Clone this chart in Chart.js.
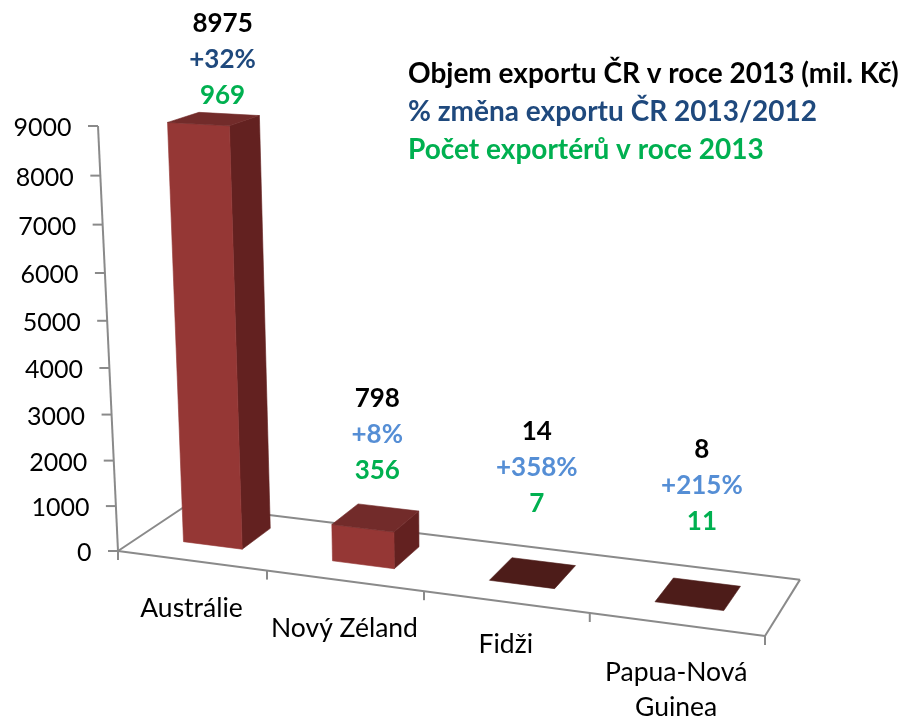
<!DOCTYPE html>
<html><head><meta charset="utf-8">
<style>html,body{margin:0;padding:0;background:#fff}canvas{display:block}</style>
<script src="https://cdn.jsdelivr.net/npm/chart.js@4/dist/chart.umd.min.js"></script>
</head><body><canvas id="c" width="908" height="721"></canvas>
<script>
const categories = [['Austrálie'], ['Nový Zéland'], ['Fidži'], ['Papua-Nová', 'Guinea']];
const exportVolume = [8975, 798, 14, 8];
const exportChange = ['+32%', '+8%', '+358%', '+215%'];
const exporterCount = [969, 356, 7, 11];
const legendLines = ['Objem exportu ČR v roce 2013 (mil. Kč)', '% změna exportu ČR 2013/2012', 'Počet exportérů v roce 2013'];

const FONT = 'Lato, Carlito, "Open Sans", sans-serif';
const C = {front:'#953735', side:'#632120', top:'#722b2a', flat:'#4d1c19', axis:'#8a8a8a', text:'#000',
           green:'#00b050', navy:'#1f497d', blue:'#558ed5'};
// Projective camera: floor and axis corners on screen + perspective terms.
const CAM = {O:[118,551], R:[765,636], T:[98,126], Q:[187,505], du:-0.1025, dv:-0.0545, dw:0.0613};
const DEPTH = [0.31, 0.75];
const ROW_TOPS = [24, 399, 432, 450];     // centre of the first annotation row per category
const ROW_NUDGE_X = [-6, 0, 3, 3];        // horizontal offset of the annotation rows
const LABEL_NUDGE_Y = [0, 0, -5, 1];      // vertical offset of the category labels
const ROW_STEP = 36;

function project(u, t, w) {
  const {O, R, T, Q, du, dv, dw} = CAM;
  const den = 1 + du*u + dv*t + dw*w;
  return [0, 1].map(i => (O[i] + u*(R[i]*(1+du)-O[i]) + t*(T[i]*(1+dv)-O[i]) + w*(Q[i]*(1+dw)-O[i])) / den);
}
function poly(ctx, pts, fill) {
  ctx.beginPath();
  pts.forEach((p, i) => i ? ctx.lineTo(p[0], p[1]) : ctx.moveTo(p[0], p[1]));
  ctx.closePath();
  ctx.fillStyle = fill; ctx.fill();
  ctx.strokeStyle = fill; ctx.lineWidth = 0.6; ctx.stroke();
}
function seg(ctx, a, b) { ctx.beginPath(); ctx.moveTo(a[0], a[1]); ctx.lineTo(b[0], b[1]); ctx.stroke(); }

const scene3d = {
  id: 'scene3d',
  beforeDatasetsDraw(chart) {
    const {ctx, scales:{x, y}, chartArea:a} = chart;
    ctx.save();
    ctx.strokeStyle = C.axis; ctx.lineWidth = 2; ctx.lineCap = 'butt';
    // floor
    const f = [project(0,0,0), project(1,0,0), project(1,0,1), project(0,0,1)];
    f.forEach((p, i) => seg(ctx, p, f[(i+1)%4]));
    // y axis
    seg(ctx, project(0,0,0), project(0,1,0));
    ctx.fillStyle = C.text; ctx.font = '25px ' + FONT; ctx.textAlign = 'right'; ctx.textBaseline = 'middle';
    y.ticks.forEach(tick => {
      const t = (a.bottom - y.getPixelForValue(tick.value)) / a.height;
      const p = project(0, t, 0);
      seg(ctx, [p[0]-10, p[1]], p);
      ctx.fillText(String(tick.value), p[0]-26.5, p[1] + 2);
    });
    // x axis ticks
    for (let i = 0; i <= categories.length; i++) {
      const p = project(i/categories.length, 0, 0);
      seg(ctx, p, [p[0], p[1]+9]);
    }
    // category labels
    ctx.textAlign = 'center'; ctx.textBaseline = 'alphabetic'; ctx.font = '26.5px ' + FONT;
    chart.data.labels.forEach((lines, i) => {
      const u = (x.getPixelForValue(i) - a.left) / a.width;
      const p = project(u, 0, 0);
      lines.forEach((s, k) => ctx.fillText(s, p[0], p[1] + 56 + LABEL_NUDGE_Y[i] + k*35));
    });
    ctx.restore();
  },
  beforeDatasetDraw(chart, args) {
    const {ctx, chartArea:a} = chart;
    ctx.save();
    args.meta.data.forEach(el => {
      const {x, y, width} = el.getProps(['x','y','width'], true);
      const u0 = (x - width/2 - a.left)/a.width, u1 = (x + width/2 - a.left)/a.width;
      const t = (a.bottom - y)/a.height;
      const [w0, w1] = DEPTH;
      const A = project(u0,0,w0), B = project(u1,0,w0), Bb = project(u1,0,w1);
      const At = project(u0,t,w0), Bt = project(u1,t,w0), Bbt = project(u1,t,w1), Abt = project(u0,t,w1);
      const flat = Math.abs(A[1]-At[1]) < 1.5;
      if (!flat) {
        poly(ctx, [B, Bb, Bbt, Bt], C.side);
        poly(ctx, [A, B, Bt, At], C.front);
      }
      poly(ctx, [At, Bt, Bbt, Abt], flat ? C.flat : C.top);
    });
    ctx.restore();
    return false;
  },
  afterDatasetsDraw(chart) {
    const {ctx, scales:{x}} = chart;
    ctx.save();
    ctx.textAlign = 'center'; ctx.textBaseline = 'middle'; ctx.font = 'bold 26px ' + FONT;
    categories.forEach((_, i) => {
      const u = (x.getPixelForValue(i) - chart.chartArea.left) / chart.chartArea.width;
      const cx = project(u, 0, 0.55)[0] + ROW_NUDGE_X[i];
      const y0 = ROW_TOPS[i];
      [[exportVolume[i], C.text], [exportChange[i], i === 0 ? C.navy : C.blue], [exporterCount[i], C.green]]
        .forEach(([s, col], r) => { ctx.fillStyle = col; ctx.fillText(String(s), cx, y0 + r*ROW_STEP); });
    });
    ctx.textAlign = 'left'; ctx.textBaseline = 'alphabetic'; ctx.font = 'bold 28px ' + FONT;
    [C.text, C.navy, C.green].forEach((col, i) => {
      ctx.fillStyle = col; ctx.fillText(legendLines[i], 408, 83 + i*38);
    });
    ctx.restore();
  }
};

new Chart(document.getElementById('c'), {
  type: 'bar',
  data: { labels: categories, datasets: [{ data: exportVolume, backgroundColor: C.front, barPercentage: 0.4, categoryPercentage: 1 }] },
  options: {
    responsive: false, animation: false,
    layout: { padding: { left: 118, right: 143, top: 126, bottom: 169 } },
    plugins: { legend: { display: false }, tooltip: { enabled: false } },
    scales: {
      x: { ticks: { display: false }, grid: { display: false }, border: { display: false } },
      y: { min: 0, max: 9000, ticks: { display: false, stepSize: 1000 }, grid: { display: false }, border: { display: false } }
    }
  },
  plugins: [scene3d]
});
</script></body></html>
